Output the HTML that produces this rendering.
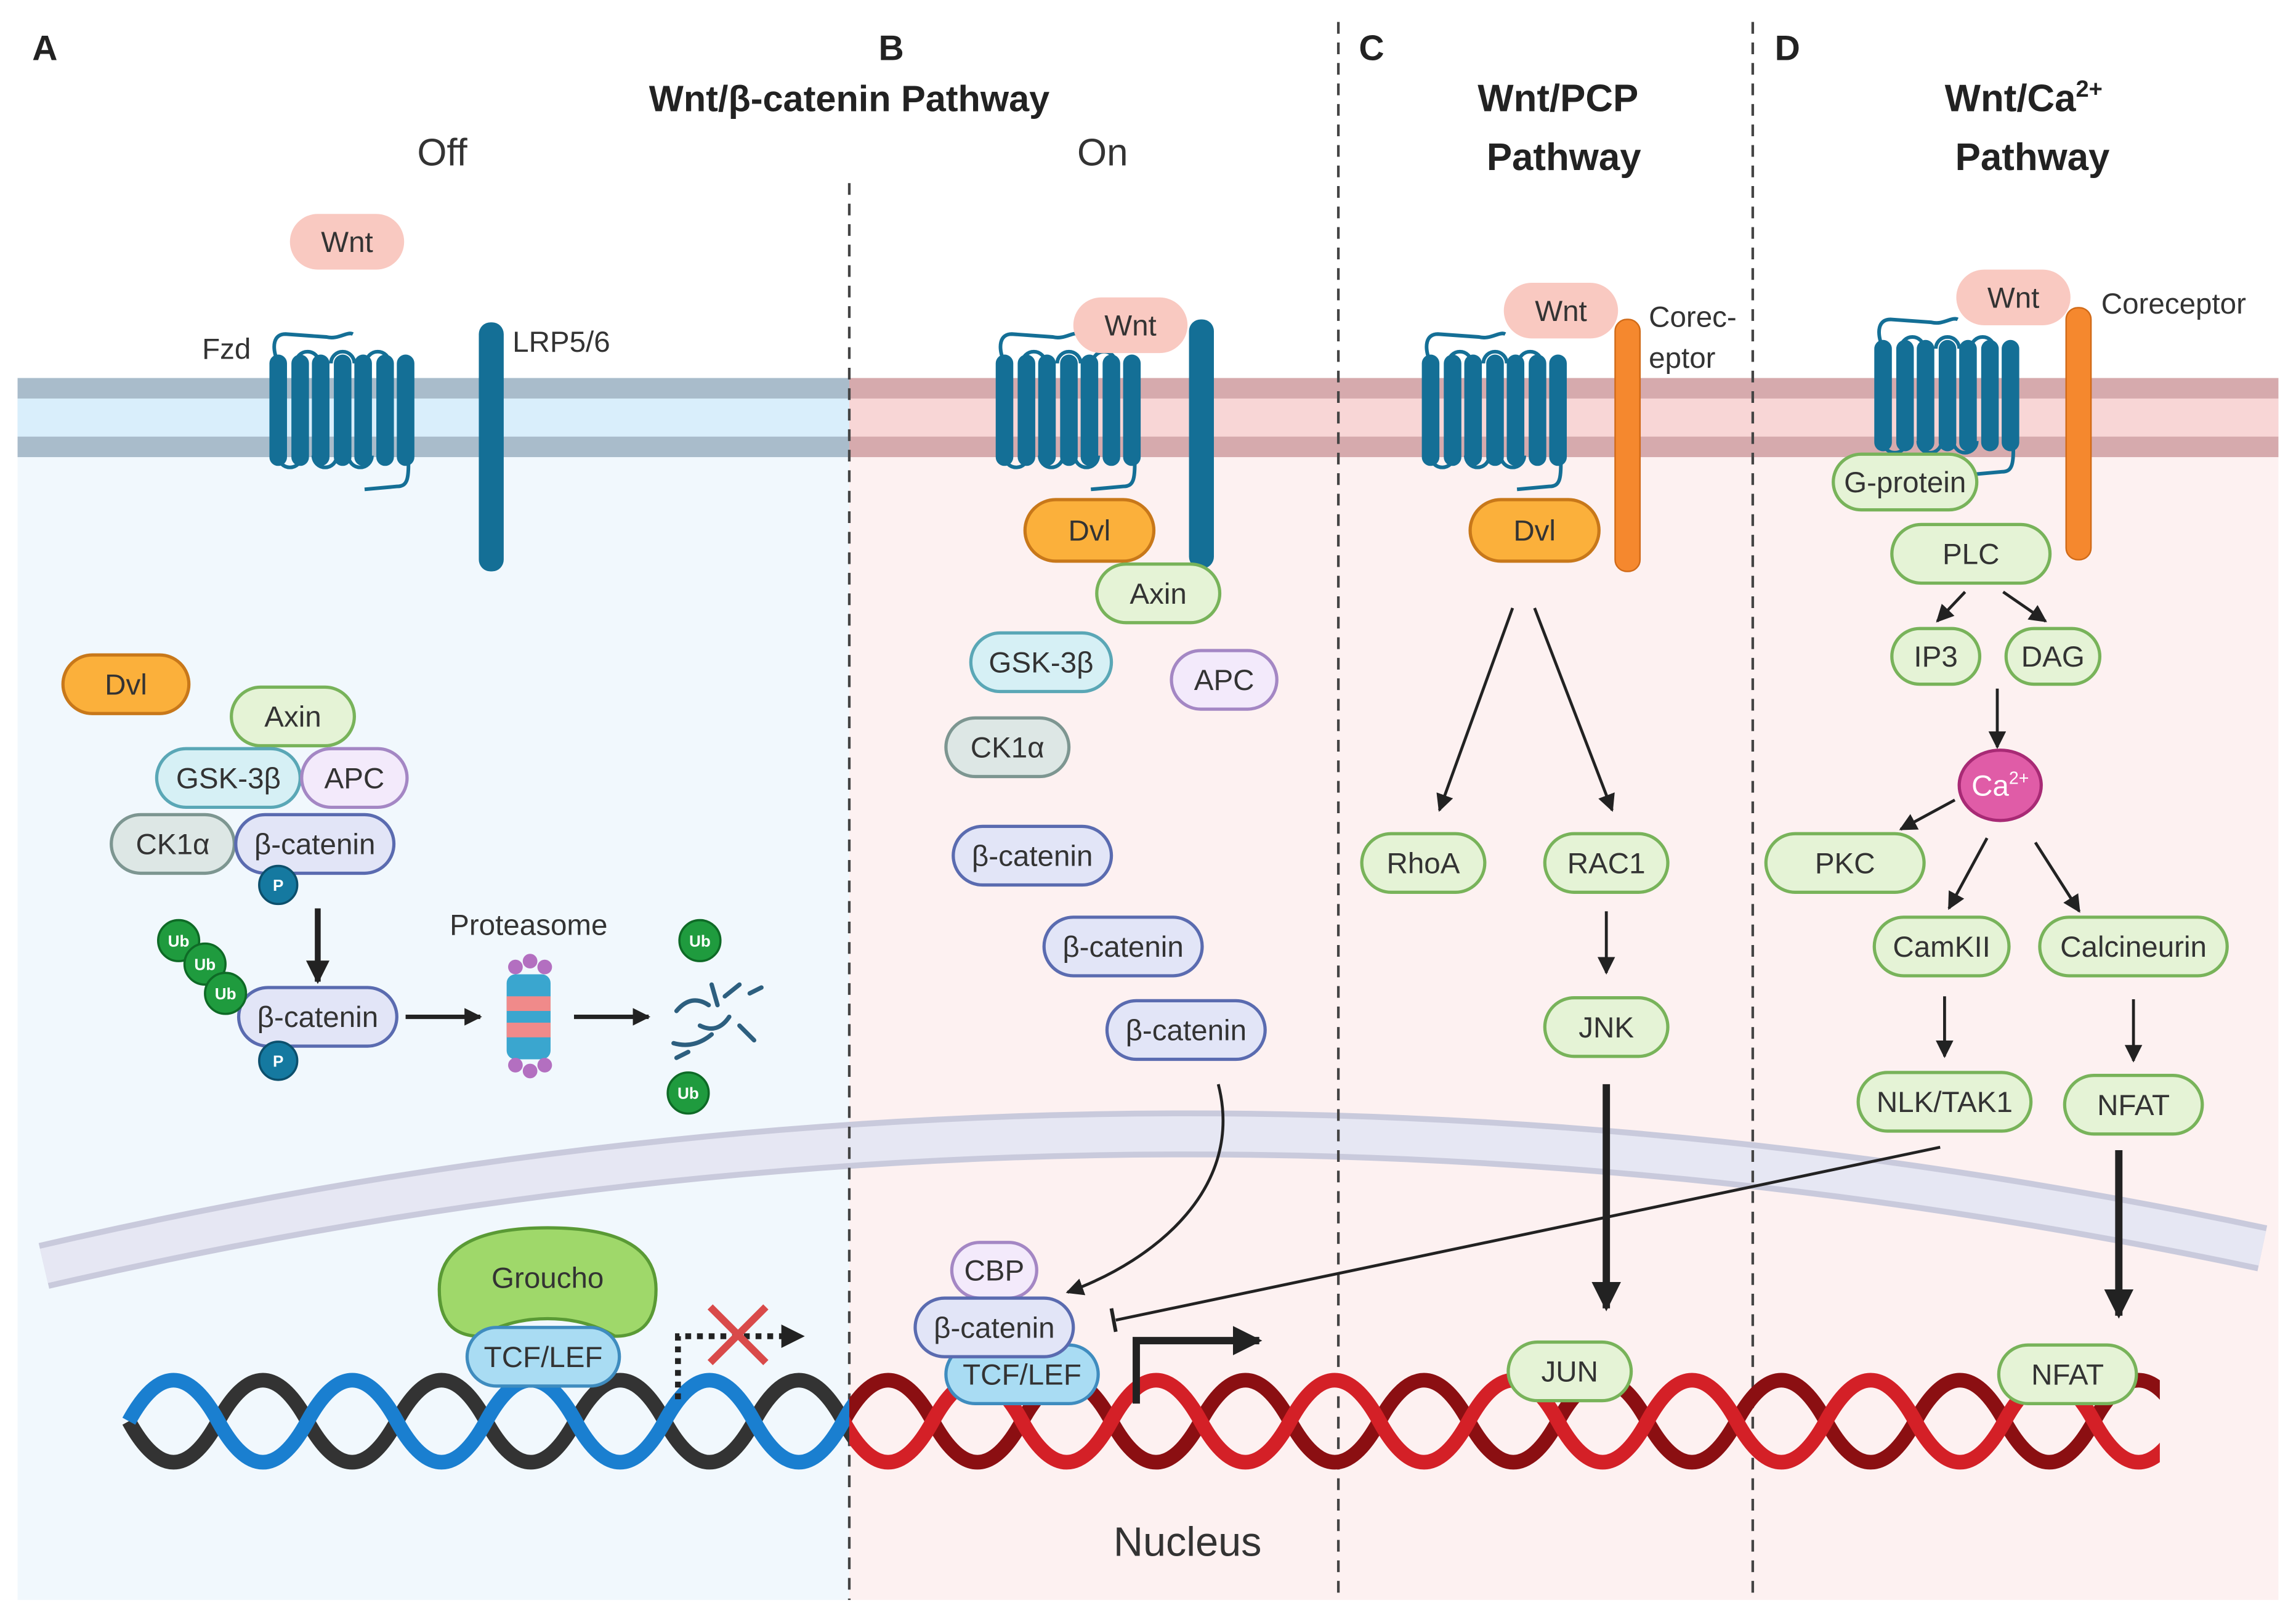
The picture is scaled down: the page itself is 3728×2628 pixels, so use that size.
<!DOCTYPE html>
<html><head><meta charset="utf-8"><style>
html,body{margin:0;padding:0;background:#fff;}
svg{display:block;}
text{font-family:"Liberation Sans",sans-serif;}
</style></head><body>
<svg width="3728" height="2628" viewBox="0 0 1568 1105" preserveAspectRatio="none" xmlns="http://www.w3.org/2000/svg">
<defs>
<symbol id="fzd" viewBox="0 0 110 110" overflow="visible">
<g fill="none" stroke="#146f96" stroke-width="2.5">
<path d="M7 22 C2 10 4 2 12 2 L40 4 C48 6 54 0 58 2"/>
<path d="M19 22 a5 5 0 0 1 16 0"/><path d="M43 22 a5 5 0 0 1 16 0"/><path d="M67 22 a5 5 0 0 1 16 0"/>
<path d="M7 85 a5 5 0 0 0 16 0"/><path d="M31 85 a5 5 0 0 0 16 0"/><path d="M55 85 a5 5 0 0 0 16 0"/>
<path d="M96 85 C96 100 96 106 88 106 L66 108"/>
</g>
<g fill="#146f96">
<rect x="1" y="16" width="12" height="76" rx="6"/><rect x="16" y="16" width="12" height="76" rx="6"/>
<rect x="30" y="16" width="12" height="76" rx="6"/><rect x="45" y="16" width="12" height="76" rx="6"/>
<rect x="59" y="16" width="12" height="76" rx="6"/><rect x="74" y="16" width="12" height="76" rx="6"/>
<rect x="88" y="16" width="12" height="76" rx="6"/>
</g>
</symbol>
<clipPath id="cl"><rect x="80" y="900" width="500" height="140"/></clipPath>
<clipPath id="cr"><rect x="580" y="900" width="895" height="140"/></clipPath>
<marker id="ar" viewBox="0 0 10 10" refX="9" refY="5" markerWidth="6" markerHeight="6" orient="auto"><path d="M0 0 L10 5 L0 10z" fill="#222"/></marker>
<marker id="arb" viewBox="0 0 10 10" refX="9" refY="5" markerWidth="4" markerHeight="4" orient="auto"><path d="M0 0 L10 5 L0 10z" fill="#222"/></marker>
</defs>

<rect x="12" y="258" width="568" height="834" fill="#f1f8fd"/>
<rect x="580" y="258" width="976" height="834" fill="#fdf1f1"/>
<rect x="12" y="258" width="568" height="54" fill="#a9bccb"/>
<rect x="12" y="272" width="568" height="26" fill="#d9eefb"/>
<rect x="580" y="258" width="976" height="54" fill="#d6aaad"/>
<rect x="580" y="272" width="976" height="26" fill="#f8d6d6"/>

<path d="M30 864 Q780 690 1545 852" fill="none" stroke="#c9cadc" stroke-width="32"/>
<path d="M30 864 Q780 690 1545 852" fill="none" stroke="#e6e7f3" stroke-width="24"/>

<g stroke="#444" stroke-width="1.8" stroke-dasharray="8,6">
<line x1="580" y1="125" x2="580" y2="1092"/>
<line x1="914" y1="15" x2="914" y2="1092"/>
<line x1="1197" y1="15" x2="1197" y2="1092"/>
</g>

<g fill="none" stroke-width="10">
<g clip-path="url(#cl)">
<path d="M88 970 Q118.5 1026 149 970 T210 970 T271 970 T332 970 T393 970 T454 970 T515 970 T576 970 T637 970" stroke="#333"/>
<path d="M88 970 Q118.5 914 149 970 T210 970 T271 970 T332 970 T393 970 T454 970 T515 970 T576 970 T637 970" stroke="#1a7fd0"/>
</g>
<g clip-path="url(#cr)">
<path d="M515 970 Q545.5 1026 576 970 T637 970 T698 970 T759 970 T820 970 T881 970 T942 970 T1003 970 T1064 970 T1125 970 T1186 970 T1247 970 T1308 970 T1369 970 T1430 970 T1491 970" stroke="#8b0f12"/>
<path d="M515 970 Q545.5 914 576 970 T637 970 T698 970 T759 970 T820 970 T881 970 T942 970 T1003 970 T1064 970 T1125 970 T1186 970 T1247 970 T1308 970 T1369 970 T1430 970 T1491 970" stroke="#d42027"/>
</g>
</g>

<g font-weight="bold" fill="#222">
<text x="22" y="41" font-size="24">A</text>
<text x="600" y="41" font-size="24">B</text>
<text x="928" y="41" font-size="24">C</text>
<text x="1212" y="41" font-size="24">D</text>
<text x="580" y="76" font-size="25" text-anchor="middle">Wnt/β-catenin Pathway</text>
<text x="1064" y="76" font-size="26" text-anchor="middle">Wnt/PCP</text>
<text x="1068" y="116" font-size="26" text-anchor="middle">Pathway</text>
<text x="1382" y="76" font-size="26" text-anchor="middle">Wnt/Ca<tspan font-size="16" dy="-10">2+</tspan></text>
<text x="1388" y="116" font-size="26" text-anchor="middle">Pathway</text>
</g>
<text x="302" y="113" font-size="26" text-anchor="middle" fill="#333">Off</text>
<text x="753" y="113" font-size="26" text-anchor="middle" fill="#333">On</text>
<text x="811" y="1062" font-size="28" text-anchor="middle" fill="#333">Nucleus</text>

<use href="#fzd" x="183" y="226" width="110" height="110"/>
<use href="#fzd" x="679" y="226" width="110" height="110"/>
<use href="#fzd" x="970" y="226" width="110" height="110"/>
<use href="#fzd" x="1279" y="216" width="110" height="110"/>
<rect x="327" y="220" width="17" height="170" rx="8" fill="#146f96"/>
<rect x="812" y="218" width="17" height="170" rx="8" fill="#146f96"/>
<rect x="1103" y="218" width="17" height="172" rx="8" fill="#f5882e" stroke="#d06a18"/>
<rect x="1411" y="210" width="17" height="172" rx="8" fill="#f5882e" stroke="#d06a18"/>
<g font-size="20" fill="#333">
<text x="138" y="245">Fzd</text>
<text x="350" y="240">LRP5/6</text>
<text x="1126" y="223">Corec-</text>
<text x="1126" y="251">eptor</text>
<text x="1435" y="214">Coreceptor</text>
</g>

<g fill="#f9c9c1"><rect x="198" y="146" width="78" height="38" rx="19"/><rect x="733" y="203" width="78" height="38" rx="19"/><rect x="1027" y="193" width="78" height="38" rx="19"/><rect x="1336" y="184" width="78" height="38" rx="19"/></g>
<g font-size="20" fill="#333" text-anchor="middle"><text x="237" y="172">Wnt</text><text x="772" y="229">Wnt</text><text x="1066" y="219">Wnt</text><text x="1375" y="210">Wnt</text></g>

<g stroke="#222" fill="none">
<line x1="217" y1="620" x2="217" y2="670" stroke-width="4" marker-end="url(#arb)"/>
<line x1="277" y1="694" x2="328" y2="694" stroke-width="3" marker-end="url(#arb)"/>
<line x1="392" y1="694" x2="443" y2="694" stroke-width="3" marker-end="url(#arb)"/>
<path d="M463 955 V912 H548" stroke-width="4" stroke-dasharray="4,4" marker-end="url(#arb)"/>
<path d="M832 740 C850 810 790 860 729 882" stroke-width="2" marker-end="url(#ar)"/>
<line x1="1325" y1="783" x2="762" y2="901" stroke-width="2"/>
<line x1="759" y1="893" x2="762" y2="909" stroke-width="2.5"/>
<path d="M776 958 V915 H860" stroke-width="5" marker-end="url(#arb)"/>
<line x1="1033" y1="415" x2="983" y2="553" stroke-width="2" marker-end="url(#ar)"/>
<line x1="1048" y1="415" x2="1101" y2="553" stroke-width="2" marker-end="url(#ar)"/>
<line x1="1097" y1="622" x2="1097" y2="664" stroke-width="2" marker-end="url(#ar)"/>
<line x1="1097" y1="740" x2="1097" y2="893" stroke-width="5" marker-end="url(#arb)"/>
<line x1="1342" y1="404" x2="1323" y2="424" stroke-width="2" marker-end="url(#ar)"/>
<line x1="1368" y1="404" x2="1397" y2="424" stroke-width="2" marker-end="url(#ar)"/>
<line x1="1364" y1="470" x2="1364" y2="510" stroke-width="2" marker-end="url(#ar)"/>
<line x1="1335" y1="546" x2="1298" y2="566" stroke-width="2" marker-end="url(#ar)"/>
<line x1="1357" y1="572" x2="1331" y2="620" stroke-width="2" marker-end="url(#ar)"/>
<line x1="1390" y1="575" x2="1420" y2="622" stroke-width="2" marker-end="url(#ar)"/>
<line x1="1328" y1="680" x2="1328" y2="721" stroke-width="2" marker-end="url(#ar)"/>
<line x1="1457" y1="682" x2="1457" y2="724" stroke-width="2" marker-end="url(#ar)"/>
<line x1="1447" y1="785" x2="1447" y2="898" stroke-width="5" marker-end="url(#arb)"/>
</g>
<g stroke="#d94a4a" stroke-width="5"><line x1="485" y1="892" x2="523" y2="930"/><line x1="523" y1="892" x2="485" y2="930"/></g>

<g>
<rect x="346" y="665" width="30" height="58" rx="6" fill="#3aa6cf"/>
<rect x="346" y="680" width="30" height="10" fill="#f08a8a"/><rect x="346" y="698" width="30" height="10" fill="#f08a8a"/>
<g fill="#b36fc0"><circle cx="352" cy="660" r="5"/><circle cx="362" cy="656" r="5"/><circle cx="372" cy="660" r="5"/><circle cx="352" cy="727" r="5"/><circle cx="362" cy="731" r="5"/><circle cx="372" cy="727" r="5"/></g>
</g>
<text x="361" y="638" font-size="20" text-anchor="middle" fill="#333">Proteasome</text>
<g stroke="#2d5f7f" stroke-width="3" stroke-linecap="round" fill="none">
<path d="M462 690 q10 -12 22 -4"/><path d="M478 700 q12 6 20 -6"/><path d="M495 680 l10 -8"/><path d="M460 712 q14 4 26 -6"/><path d="M505 700 l10 10"/><path d="M486 672 l4 14"/><path d="M512 678 l8 -4"/><path d="M470 718 l-8 4"/>
</g>

<g stroke-width="2.2">
<g fill="#fbb03b" stroke="#c8781a"><rect x="43" y="447" width="86" height="40" rx="20"/><rect x="700" y="341" width="88" height="42" rx="21"/><rect x="1004" y="341" width="88" height="42" rx="21"/></g>
<g fill="#e5f3d6" stroke="#78b35a">
<rect x="158" y="469" width="84" height="40" rx="20"/>
<rect x="749" y="385" width="84" height="40" rx="20"/>
<rect x="930" y="569" width="84" height="40" rx="20"/>
<rect x="1055" y="569" width="84" height="40" rx="20"/>
<rect x="1055" y="681" width="84" height="40" rx="20"/>
<rect x="1030" y="916" width="84" height="40" rx="20"/>
<rect x="1252" y="310" width="98" height="38" rx="19"/>
<rect x="1292" y="358" width="108" height="40" rx="20"/>
<rect x="1292" y="429" width="60" height="38" rx="19"/>
<rect x="1370" y="429" width="64" height="38" rx="19"/>
<rect x="1206" y="569" width="108" height="40" rx="20"/>
<rect x="1280" y="626" width="92" height="40" rx="20"/>
<rect x="1393" y="626" width="128" height="40" rx="20"/>
<rect x="1269" y="732" width="118" height="40" rx="20"/>
<rect x="1410" y="734" width="94" height="40" rx="20"/>
<rect x="1365" y="918" width="94" height="40" rx="20"/>
</g>
<path d="M300 880 Q300 838 374 838 Q448 838 448 880 Q448 912 420 912 Q400 900 374 900 Q348 900 328 912 Q300 912 300 880z" fill="#9fd86a" stroke="#5a9a35"/>
<g fill="#d6f0f5" stroke="#5aa7b6"><rect x="107" y="511" width="98" height="40" rx="20"/><rect x="663" y="432" width="96" height="40" rx="20"/></g>
<g fill="#f3eafb" stroke="#a487c4"><rect x="206" y="511" width="72" height="40" rx="20"/><rect x="800" y="444" width="72" height="40" rx="20"/><rect x="650" y="848" width="58" height="38" rx="19"/></g>
<g fill="#dde7e5" stroke="#7d9691"><rect x="76" y="556" width="84" height="40" rx="20"/><rect x="646" y="490" width="84" height="40" rx="20"/></g>
<g fill="#a9dcf3" stroke="#3f8cbf"><rect x="319" y="906" width="104" height="40" rx="20"/><rect x="646" y="918" width="104" height="40" rx="20"/></g>
<g fill="#e2e5f7" stroke="#5a6bb0">
<rect x="161" y="556" width="108" height="40" rx="20"/>
<rect x="163" y="674" width="108" height="40" rx="20"/>
<rect x="651" y="564" width="108" height="40" rx="20"/>
<rect x="713" y="626" width="108" height="40" rx="20"/>
<rect x="756" y="683" width="108" height="40" rx="20"/>
<rect x="625" y="886" width="108" height="40" rx="20"/>
</g>
<ellipse cx="1366" cy="536" rx="28" ry="24" fill="#e05ca7" stroke="#a82a75"/>
</g>
<g fill="#1579a0" stroke="#0c4f6c" stroke-width="1.5"><circle cx="190" cy="604" r="13"/><circle cx="190" cy="724" r="13"/></g>
<g fill="#1f9b3e" stroke="#0e6a26" stroke-width="1.5"><circle cx="122" cy="642" r="14"/><circle cx="140" cy="658" r="14"/><circle cx="154" cy="678" r="14"/><circle cx="478" cy="642" r="14"/><circle cx="470" cy="746" r="14"/></g>
<g font-size="11" fill="#fff" text-anchor="middle" font-weight="bold">
<text x="190" y="608">P</text><text x="190" y="728">P</text>
<text x="122" y="646">Ub</text><text x="140" y="662">Ub</text><text x="154" y="682">Ub</text><text x="478" y="646">Ub</text><text x="470" y="750">Ub</text>
</g>

<g font-size="20" fill="#333" text-anchor="middle">
<text x="86" y="474">Dvl</text><text x="744" y="369">Dvl</text><text x="1048" y="369">Dvl</text>
<text x="200" y="496">Axin</text><text x="791" y="412">Axin</text>
<text x="156" y="538">GSK-3β</text><text x="711" y="459">GSK-3β</text>
<text x="242" y="538">APC</text><text x="836" y="471">APC</text>
<text x="118" y="583">CK1α</text><text x="688" y="517">CK1α</text>
<text x="215" y="583">β-catenin</text><text x="217" y="701">β-catenin</text>
<text x="705" y="591">β-catenin</text><text x="767" y="653">β-catenin</text><text x="810" y="710">β-catenin</text><text x="679" y="913">β-catenin</text>
<text x="374" y="879">Groucho</text>
<text x="371" y="933">TCF/LEF</text><text x="698" y="945">TCF/LEF</text>
<text x="679" y="874">CBP</text>
<text x="972" y="596">RhoA</text><text x="1097" y="596">RAC1</text><text x="1097" y="708">JNK</text><text x="1072" y="943">JUN</text>
<text x="1301" y="336">G-protein</text><text x="1346" y="385">PLC</text><text x="1322" y="455">IP3</text><text x="1402" y="455">DAG</text>
<text x="1366" y="543" fill="#fff">Ca<tspan font-size="12" dy="-8">2+</tspan></text>
<text x="1260" y="596">PKC</text><text x="1326" y="653">CamKII</text><text x="1457" y="653">Calcineurin</text>
<text x="1328" y="759">NLK/TAK1</text><text x="1457" y="761">NFAT</text><text x="1412" y="945">NFAT</text>
</g>
</svg>
</body></html>
